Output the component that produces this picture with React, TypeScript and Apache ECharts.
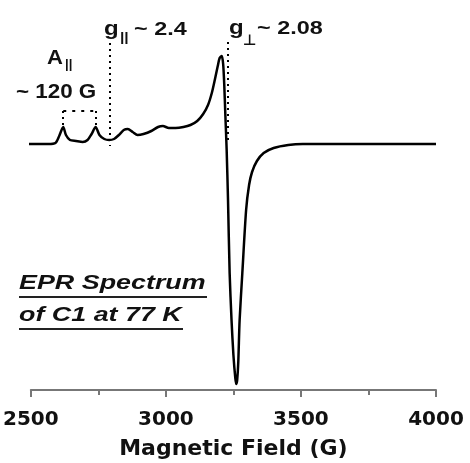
import React, { useEffect, useRef } from "react";
import * as echarts from "echarts";

// Magnetic field (G) and derivative EPR intensity (arb. units)
const fieldG = [
  2486, 2565, 2591, 2605, 2620, 2630, 2645, 2667, 2692, 2710, 2725, 2740, 2754, 2772,
  2790, 2808, 2826, 2844, 2859, 2877, 2895, 2917, 2946, 2971, 2989, 3011, 3036, 3065,
  3091, 3116, 3138, 3156, 3170, 3181, 3192, 3199, 3207, 3212, 3216, 3220, 3225, 3230,
  3236, 3243, 3250, 3257, 3261, 3264, 3268, 3273, 3283, 3297, 3308, 3319, 3337, 3362,
  3399, 3453, 3507, 3700, 4000,
];
const intensity = [
  0, 0, 1, 8, 17, 9, 4, 3, 2, 4, 10, 17, 9, 5,
  4, 5, 9, 14, 15, 12, 9, 10, 13, 17, 18, 16, 16, 17,
  19, 23, 30, 39, 51, 64, 78, 86, 88, 80, 60, 30, -6, -56,
  -129, -176, -211, -234, -240, -236, -218, -176, -129, -66, -41, -28, -17, -9,
  -4, -1, 0, 0, 0,
];
const xTickValues = [2500, 3000, 3500, 4000];
const gParallelField = 2793;
const gPerpField = 3228;
const hyperfinePeaks = [2620, 2742];

const FONT = '"Liberation Sans", Arial, sans-serif';
const INK = "#111";

export default function App() {
  const ref = useRef<HTMLDivElement>(null);
  useEffect(() => {
    const chart = echarts.init(ref.current!, null, { renderer: "svg" });
    const data = fieldG.map((g, i) => [g, intensity[i]]);
    const dotV = { color: "#000", width: 2, type: [2, 4] };
    const dotH = { color: "#000", width: 2, type: [3, 6] };
    const txt = (
      text: string,
      x: number,
      y: number,
      size: number,
      sx: number,
      extra: any = {}
    ) => ({
      type: "text",
      x,
      y,
      scaleX: sx,
      silent: true,
      style: {
        text,
        fontFamily: FONT,
        fontSize: size,
        fontWeight: "bold",
        fill: INK,
        align: "left",
        verticalAlign: "middle",
        ...extra,
      },
    });
    chart.setOption({
      animation: false,
      grid: { left: 22, right: 34, top: 0, bottom: 73 },
      xAxis: {
        type: "value",
        min: 2500,
        max: 4000,
        interval: 500,
        name: "Magnetic Field (G)",
        nameLocation: "middle",
        nameGap: 46,
        nameTextStyle: {
          fontFamily: '"DejaVu Sans", sans-serif',
          fontWeight: "bold",
          fontSize: 22,
          color: INK,
        },
        axisLine: { onZero: false, lineStyle: { color: "#777", width: 2 } },
        axisTick: { show: true, length: 7, lineStyle: { color: "#777", width: 2 } },
        minorTick: { show: true, splitNumber: 2, length: 5, lineStyle: { color: "#777", width: 2 } },
        splitLine: { show: false },
        axisLabel: {
          margin: 18,
          fontFamily: '"DejaVu Sans", sans-serif',
          fontWeight: "bold",
          fontSize: 20,
          color: INK,
          formatter: (v: number) => (xTickValues.includes(v) ? String(v) : ""),
        },
      },
      yAxis: { type: "value", min: -246, max: 144, show: false },
      series: [
        {
          type: "line",
          data,
          showSymbol: false,
          smooth: 0.25,
          lineStyle: { color: "#000", width: 2.5 },
          markLine: {
            silent: true,
            symbol: ["none", "none"],
            label: { show: false },
            animation: false,
            data: [
              [{ coord: [gParallelField, 101], lineStyle: dotV }, { coord: [gParallelField, -2] }],
              [{ coord: [gPerpField, 102], lineStyle: dotV }, { coord: [gPerpField, 2] }],
              [{ coord: [hyperfinePeaks[0], 33], lineStyle: dotH }, { coord: [hyperfinePeaks[1], 33] }],
              [{ coord: [hyperfinePeaks[0], 33], lineStyle: dotV }, { coord: [hyperfinePeaks[0], 19] }],
              [{ coord: [hyperfinePeaks[1], 33], lineStyle: dotV }, { coord: [hyperfinePeaks[1], 19] }],
            ],
          },
        },
      ],
      graphic: [
        txt("g", 104, 28, 20, 1.2),
        txt("||", 120, 36, 13, 1.2),
        txt("~ 2.4", 134, 29, 18, 1.3),
        txt("g", 229, 27, 20, 1.2),
        {
          type: "text",
          x: 243,
          y: 40,
          silent: true,
          style: {
            text: "⊥",
            fontFamily: '"DejaVu Sans", sans-serif',
            fontSize: 15,
            fontWeight: "bold",
            fill: INK,
            align: "left",
            verticalAlign: "middle",
          },
        },
        txt("~ 2.08", 257, 28, 18, 1.3),
        txt("A", 47, 57, 21, 1.05),
        txt("||", 65, 64, 12, 1.1),
        txt("~ 120 G", 16, 91, 20, 1.12),
        txt("EPR Spectrum", 19, 282, 21, 1.28, { fontStyle: "italic" }),
        txt("of C1 at 77 K", 19, 314, 21, 1.28, { fontStyle: "italic" }),
        { type: "line", silent: true, shape: { x1: 19, y1: 297, x2: 207, y2: 297 }, style: { stroke: "#222", lineWidth: 2 } },
        { type: "line", silent: true, shape: { x1: 19, y1: 329, x2: 183, y2: 329 }, style: { stroke: "#222", lineWidth: 2 } },
      ],
    });
    return () => chart.dispose();
  }, []);
  return (
    <div
      ref={ref}
      style={{ position: "fixed", left: 0, top: 0, width: 470, height: 463 }}
    />
  );
}
